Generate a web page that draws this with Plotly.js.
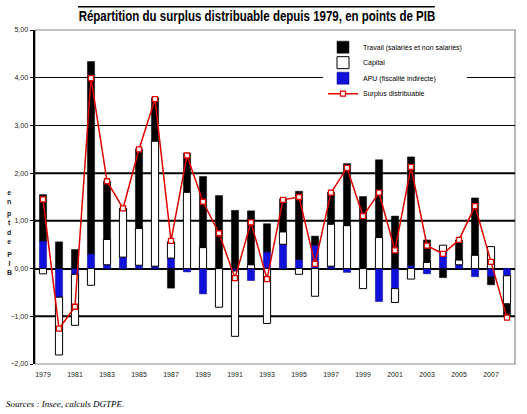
<!DOCTYPE html>
<html>
<head>
<meta charset="utf-8">
<script src="https://cdn.plot.ly/plotly-3.0.1.min.js"></script>
<style>html,body{margin:0;padding:0;background:#fff;}#chart{width:527px;height:414px;}</style>
</head>
<body>
<div id="chart"></div>
<script>
const years = [1979,1980,1981,1982,1983,1984,1985,1986,1987,1988,1989,1990,1991,1992,1993,1994,1995,1996,1997,1998,1999,2000,2001,2002,2003,2004,2005,2006,2007,2008];
const tickYears = [1979,1981,1983,1985,1987,1989,1991,1993,1995,1997,1999,2001,2003,2005,2007];
const travail = [0.97,0.56,0.40,4.03,1.22,0.00,1.67,0.91,-0.41,0.82,1.49,1.53,1.22,1.13,0.59,0.69,1.43,0.19,0.67,1.30,1.51,1.63,1.10,2.28,0.47,-0.19,0.42,1.20,-0.17,-0.27];
const capital = [-0.11,-1.21,-1.07,-0.35,0.53,1.02,0.77,2.62,0.34,1.60,0.44,-0.81,-1.37,0.08,-1.15,0.26,-0.12,-0.58,0.88,0.90,-0.42,0.65,-0.29,-0.22,0.13,0.14,0.10,0.28,0.46,-0.59];
const apu = [0.58,-0.60,-0.12,0.31,0.08,0.24,0.07,0.05,0.22,-0.07,-0.53,0.00,-0.05,-0.25,0.35,0.51,0.19,0.49,0.05,-0.08,0.00,-0.69,-0.42,0.06,-0.11,0.35,0.08,-0.17,-0.17,-0.15];
const surplus = [1.45,-1.26,-0.80,3.99,1.83,1.26,2.50,3.55,0.58,2.37,1.40,0.74,-0.20,0.97,-0.22,1.44,1.50,0.10,1.59,2.11,1.10,1.59,0.38,2.13,0.48,0.31,0.60,1.31,0.14,-1.03];

const names = {
  travail: 'Travail (salariés et non salariés)',
  capital: 'Capital',
  apu: 'APU (fiscalité indirecte)',
  surplus: 'Surplus distribuable'
};

const barW = 0.45;
const traces = [
  {type:'bar', x:years, y:apu, name:names.apu, legendrank:3, width:barW,
   marker:{color:'#1010d8', line:{color:'#000080', width:0.5}}},
  {type:'bar', x:years, y:capital, name:names.capital, legendrank:2, width:barW,
   marker:{color:'#ffffff', line:{color:'#000000', width:1}}},
  {type:'bar', x:years, y:travail, name:names.travail, legendrank:1, width:barW,
   marker:{color:'#000000', line:{color:'#000000', width:0.5}}},
  {type:'scatter', mode:'lines+markers', x:years, y:surplus, name:names.surplus, legendrank:4,
   line:{color:'#e00000', width:1.5},
   marker:{symbol:'square', size:5, color:'#ffffff', line:{color:'#e00000', width:1.3}}}
];

const lblFont = {family:'Liberation Sans, Arial, sans-serif', size:7, color:'#222', weight:'bold'};
const layout = {
  width:527, height:414,
  margin:{l:35, r:12, t:30, b:50, pad:0},
  paper_bgcolor:'#ffffff', plot_bgcolor:'#ffffff',
  separators:',.',
  barmode:'relative',
  showlegend:true,
  legend:{x:0.6, y:0.992, xanchor:'left', yanchor:'top', bgcolor:'#ffffff', borderwidth:0,
    traceorder:'normal', font:{family:'Liberation Sans, Arial, sans-serif', size:7, color:'#000'}},
  title:{text:'Répartition du surplus distribuable depuis 1979, en points de PIB',
    font:{family:'Liberation Sans, Arial, sans-serif', size:15, color:'#000', weight:'bold'},
    xref:'container', x:0.488, xanchor:'center', yref:'container', y:0.963, yanchor:'middle'},
  xaxis:{range:[1978.5,2008.5], tickvals:tickYears, ticktext:tickYears.map(String),
    showgrid:false, zeroline:false, showline:false, ticks:'', ticklabelstandoff:5,
    tickfont:{family:'Liberation Sans, Arial, sans-serif', size:7, color:'#222'}},
  yaxis:{range:[-2,5], dtick:1, tick0:0, tickformat:'.2f',
    showgrid:true, gridcolor:'#000', gridwidth:1,
    zeroline:true, zerolinecolor:'#000', zerolinewidth:2,
    showline:true, linecolor:'#000', linewidth:2.5,
    ticks:'outside', ticklen:3, tickcolor:'#000', tickwidth:1,
    tickfont:{family:'Liberation Sans, Arial, sans-serif', size:7, color:'#222'}},
  shapes:[
    {type:'rect', xref:'paper', yref:'paper', x0:0, x1:1, y0:0, y1:1, line:{color:'#888', width:1.2}, layer:'below'},
    {type:'line', xref:'paper', yref:'y', x0:0, x1:1, y0:2, y1:2, line:{color:'#000', width:2}, layer:'below'},
    {type:'line', xref:'paper', yref:'y', x0:0, x1:1, y0:1, y1:1, line:{color:'#000', width:2}, layer:'below'},
    {type:'line', xref:'paper', yref:'y', x0:0, x1:1, y0:-1, y1:-1, line:{color:'#000', width:2}, layer:'below'},
    {type:'line', xref:'paper', yref:'paper', x0:0.0896, x1:0.833, y0:1.0698, y1:1.0698, line:{color:'#000', width:1.5}}
  ],
  annotations:[
    {text:'e<br>n', xref:'paper', yref:'paper', x:-0.054, y:(364-197)/334, showarrow:false, xanchor:'center', yanchor:'middle', font:lblFont},
    {text:'p<br>t', xref:'paper', yref:'paper', x:-0.054, y:(364-218)/334, showarrow:false, xanchor:'center', yanchor:'middle', font:lblFont},
    {text:'d<br>e', xref:'paper', yref:'paper', x:-0.054, y:(364-237)/334, showarrow:false, xanchor:'center', yanchor:'middle', font:lblFont},
    {text:'P<br>I<br>B', xref:'paper', yref:'paper', x:-0.054, y:(364-263)/334, showarrow:false, xanchor:'center', yanchor:'middle', font:lblFont},
    {text:'Sources : Insee, calculs DGTPE.', xref:'paper', yref:'paper', x:(4-35)/480, y:(364-404)/334, xanchor:'left', yanchor:'middle', showarrow:false,
     font:{family:'Liberation Serif, Times New Roman, serif', size:9, color:'#000', style:'italic'}}
  ]
};

Plotly.newPlot('chart', traces, layout, {displayModeBar:false, staticPlot:true}).then(function(gd){
  // condense the title horizontally (narrow font not installed)
  const t = gd.querySelector('.gtitle');
  if (t) {
    const bb = t.getBBox();
    const target = 357, cx = 257;
    const sx = target / bb.width;
    const ox = bb.x + bb.width / 2;
    t.setAttribute('transform', 'translate(' + cx + ',0) scale(' + sx + ',1) translate(' + (-ox) + ',0)');
  }
  // tighten legend row spacing
  const items = Array.from(gd.querySelectorAll('g.legend g.traces'));
  const parse = el => {
    const m = /translate\(\s*([-\d.e]+)[ ,]+([-\d.e]+)\s*\)/.exec(el.getAttribute('transform') || '');
    return m ? [parseFloat(m[1]), parseFloat(m[2])] : [0, 0];
  };
  const pos = items.map(parse);
  const order = items.map((el, i) => i).sort((a, b) => pos[a][1] - pos[b][1]);
  const step = 15.5;
  if (order.length) {
    const y0 = pos[order[0]][1];
    let oldSpan = 0;
    order.forEach((idx, k) => {
      items[idx].setAttribute('transform', 'translate(' + pos[idx][0] + ',' + (y0 + k * step) + ')');
      oldSpan = Math.max(oldSpan, pos[idx][1] - y0);
    });
    const bg = gd.querySelector('g.legend rect.bg');
    if (bg) {
      const h = parseFloat(bg.getAttribute('height'));
      bg.setAttribute('height', h - (oldSpan - (order.length - 1) * step));
    }
  }
});
</script>
</body>
</html>
